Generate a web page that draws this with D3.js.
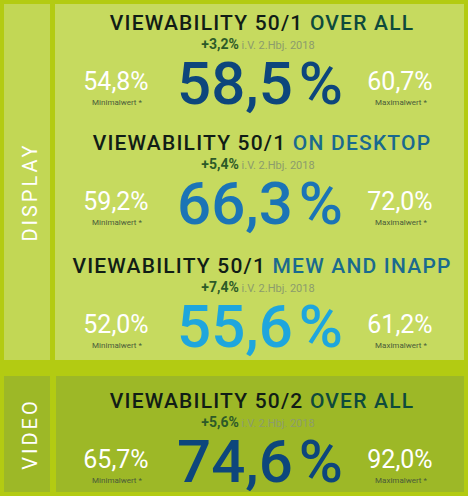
<!DOCTYPE html><html><head><meta charset="utf-8"><script src="https://d3js.org/d3.v7.min.js"></script>
<style>body{margin:0;background:#b3cb12}</style></head><body><script>
const titles=["VIEWABILITY 50/1 ","VIEWABILITY 50/1 ","VIEWABILITY 50/1 ","VIEWABILITY 50/2 "];
const titleSuffix=["OVER ALL","ON DESKTOP","MEW AND INAPP","OVER ALL"];
const changes=["+3,2%","+5,4%","+7,4%","+5,6%"];
const mainValues=["58,5","66,3","55,6","74,6"];
const minValues=["54,8%","59,2%","52,0%","65,7%"];
const maxValues=["60,7%","72,0%","61,2%","92,0%"];
const bigColors=["#0d467c","#1b74b6","#1ea6dd","#0d467c"];
const suffixColors=["#0e4a3c","#1a6a8e","#1a6a8e","#0e4a3c"];
const rowY=[22,142,265,400];
const W=468,H=496;
const svg=d3.select("body").append("svg").attr("width",W).attr("height",H).style("font-family","Roboto");
svg.append("rect").attr("width",W).attr("height",H).attr("fill","#b3cb12");
svg.append("rect").attr("x",4).attr("y",4).attr("width",46).attr("height",356).attr("fill","#c2d755");
svg.append("rect").attr("x",55).attr("y",4).attr("width",409).attr("height",356).attr("fill","#c6da5f");
svg.append("rect").attr("x",4).attr("y",376).attr("width",46).attr("height",116).attr("fill","#9db827");
svg.append("rect").attr("x",56).attr("y",376).attr("width",408).attr("height",116).attr("fill","#9db827");
[["DISPLAY",30,192],["VIDEO",30,434]].forEach(([t,x,y])=>svg.append("text").attr("transform",`translate(${x+7},${y}) rotate(-90)`).attr("text-anchor","middle").attr("fill","#fff").attr("font-size",20).attr("letter-spacing",3).text(t));
titles.forEach((t,i)=>{
 const y=rowY[i];
 const tt=svg.append("text").attr("x",262).attr("y",y+8).attr("text-anchor","middle").attr("font-size",21).attr("font-weight",500).attr("letter-spacing",1.2);
 tt.append("tspan").attr("fill","#111d16").text(t);
 tt.append("tspan").attr("fill",suffixColors[i]).text(titleSuffix[i]);
 const s=svg.append("text").attr("x",258).attr("y",y+27).attr("text-anchor","middle");
 s.append("tspan").attr("fill","#2d5a28").attr("font-size",14).attr("font-weight",700).text(changes[i]);
 s.append("tspan").attr("fill","#8c9c6c").attr("font-size",11).text(" i.V. 2.Hbj. 2018");
 const b=svg.append("text").attr("x",260).attr("y",y+82).attr("text-anchor","middle").attr("fill",bigColors[i]).attr("font-size",60).attr("font-weight",500);
 b.append("tspan").text(mainValues[i]);
 b.append("tspan").attr("dx",6).text("%");
 [[minValues[i],116,"Minimalwert *"],[maxValues[i],400,"Maximalwert *"]].forEach(([v,x,l])=>{
  svg.append("text").attr("x",x).attr("y",y+68).attr("text-anchor","middle").attr("fill","#fff").attr("font-size",25).text(v);
  svg.append("text").attr("x",x+1).attr("y",y+83).attr("text-anchor","middle").attr("fill","#4a5a3a").attr("font-size",8).text(l);
 });
});
</script></body></html>
